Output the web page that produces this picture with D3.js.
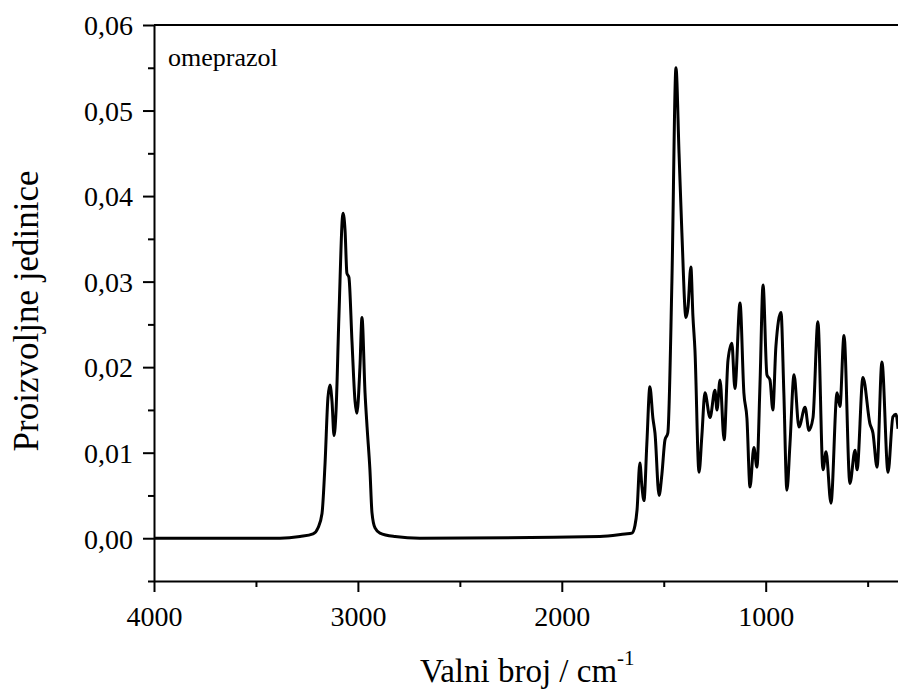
<!DOCTYPE html>
<html>
<head>
<meta charset="utf-8">
<script src="https://cdn.jsdelivr.net/npm/d3@7"></script>
<style>
  html, body { margin: 0; padding: 0; background: #fff; }
  svg { display: block; }
  svg text { font-family: "Liberation Serif", "Times New Roman", serif !important; fill: #000; }
</style>
</head>
<body>
<svg id="chart" width="898" height="695" font-family="Liberation Serif"></svg>
<script>
// ---- data ----
const wavenumber = [
  4000, 3382, 3284, 3220, 3196, 3176, 3161, 3147, 3137, 3127, 3117, 3107, 3093, 3073, 3063, 3054,
  3044, 3029, 3014, 3005, 2990, 2980, 2965, 2955, 2941, 2931, 2916, 2892, 2818, 2696, 1813, 1690,
  1656, 1641, 1631, 1617, 1607, 1597, 1583, 1568, 1553, 1543, 1523, 1509, 1494, 1480, 1460, 1440,
  1425, 1411, 1391, 1381, 1367, 1357, 1347, 1327, 1313, 1298, 1273, 1249, 1239, 1224, 1204, 1185,
  1166, 1151, 1126, 1107, 1092, 1077, 1058, 1043, 1028, 1013, 994, 979, 965, 950, 925, 911,
  896, 881, 861, 837, 807, 788, 768, 744, 719, 704, 680, 650, 636, 616, 587, 562,
  552, 523, 489, 474, 454, 430, 400, 376, 361, 351
];
const intensity = [
  0.0000, 0.0000, 0.0002, 0.0005, 0.0012, 0.0029, 0.0088, 0.0164, 0.0179, 0.0160, 0.0120, 0.0150, 0.0260, 0.0380, 0.0360, 0.0310,
  0.0305, 0.0230, 0.0160, 0.0146, 0.0200, 0.0258, 0.0170, 0.0130, 0.0080, 0.0030, 0.0012, 0.0006, 0.0002, 0.0000, 0.0002, 0.0005,
  0.0006, 0.0015, 0.0033, 0.0088, 0.0060, 0.0044, 0.0110, 0.0177, 0.0140, 0.0123, 0.0050, 0.0075, 0.0115, 0.0123, 0.0300, 0.0550,
  0.0450, 0.0357, 0.0258, 0.0270, 0.0317, 0.0260, 0.0220, 0.0077, 0.0120, 0.0170, 0.0141, 0.0173, 0.0150, 0.0185, 0.0115, 0.0208,
  0.0228, 0.0175, 0.0275, 0.0170, 0.0140, 0.0060, 0.0106, 0.0083, 0.0180, 0.0296, 0.0191, 0.0185, 0.0150, 0.0224, 0.0264, 0.0170,
  0.0056, 0.0110, 0.0191, 0.0130, 0.0153, 0.0126, 0.0141, 0.0253, 0.0080, 0.0101, 0.0041, 0.0170, 0.0154, 0.0237, 0.0064, 0.0103,
  0.0080, 0.0188, 0.0134, 0.0123, 0.0083, 0.0206, 0.0077, 0.0142, 0.0145, 0.0128
];
const xMajorTicks = [4000, 3000, 2000, 1000];
const xMinorTicks = [3500, 2500, 1500, 500];
const yMajorTicks = [0, 0.01, 0.02, 0.03, 0.04, 0.05, 0.06];
const yMinorTicks = [-0.005, 0.005, 0.015, 0.025, 0.035, 0.045, 0.055];
const sampleLabel = "omeprazol";
const xTitle = "Valni broj / cm";
const xTitleSup = "-1";
const yTitle = "Proizvoljne jedinice";

const points = wavenumber.map((w, i) => ({ w, v: intensity[i] }));

// ---- layout ----
const svg = d3.select("#chart");
const mLeft = 154, mTop = 25, mBottom = 581;
const x = d3.scaleLinear().domain([4000, 300]).range([mLeft, mLeft + 3700 * 0.2039]);
const y = d3.scaleLinear().domain([-0.005, 0.06]).range([mBottom, mTop]);
const fmt = d => d3.format(".2f")(d).replace(".", ",");

// minor ticks
svg.append("g").attr("transform", `translate(0,${mBottom})`)
  .call(d3.axisBottom(x).tickValues(xMinorTicks).tickSize(6).tickSizeOuter(0).tickFormat(""))
  .call(g => g.select(".domain").remove());
svg.append("g").attr("transform", `translate(${mLeft},0)`)
  .call(d3.axisLeft(y).tickValues(yMinorTicks).tickSize(6).tickSizeOuter(0).tickFormat(""))
  .call(g => g.select(".domain").remove());

// major axes
const xAxis = svg.append("g").attr("transform", `translate(0,${mBottom})`)
  .call(d3.axisBottom(x).tickValues(xMajorTicks).tickSize(11).tickSizeOuter(0).tickPadding(14).tickFormat(d3.format("d")));
const yAxis = svg.append("g").attr("transform", `translate(${mLeft},0)`)
  .call(d3.axisLeft(y).tickValues(yMajorTicks).tickSize(11).tickSizeOuter(0).tickPadding(10).tickFormat(fmt));

svg.selectAll("g").attr("font-family", "Liberation Serif");
svg.selectAll(".tick line").attr("stroke", "#000").attr("stroke-width", 2);
svg.selectAll(".domain").attr("stroke", "#000").attr("stroke-width", 2);
svg.selectAll(".tick text").attr("font-family", "Liberation Serif").style("font-size", "28px").attr("fill", "#000");
yAxis.selectAll(".tick text").attr("dy", "0.35em");

// top frame line
svg.append("line")
  .attr("x1", x(4000)).attr("x2", x(300))
  .attr("y1", y(0.06)).attr("y2", y(0.06))
  .attr("stroke", "#000").attr("stroke-width", 2);

// spectrum line
svg.append("path")
  .datum(points)
  .attr("fill", "none")
  .attr("stroke", "#000")
  .attr("stroke-width", 3)
  .attr("stroke-linejoin", "round")
  .attr("d", d3.line().x(d => x(d.w)).y(d => y(d.v)).curve(d3.curveMonotoneX));

// labels
svg.append("text").attr("x", 168).attr("y", 66).style("font-size", "26px").text(sampleLabel);

const xt = svg.append("text").attr("x", 420).attr("y", 682).style("font-size", "33px");
xt.append("tspan").text(xTitle);
xt.append("tspan").attr("dy", -17).style("font-size", "21px").text(xTitleSup);

svg.append("text")
  .attr("transform", `translate(38,311) rotate(-90)`)
  .attr("text-anchor", "middle")
  .style("font-size", "35px")
  .text(yTitle);
</script>
</body>
</html>
